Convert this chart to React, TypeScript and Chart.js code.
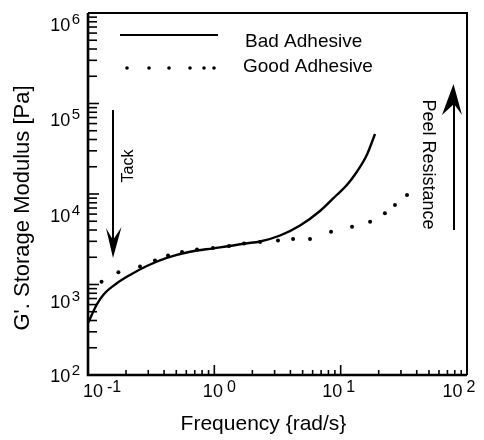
import React, { useEffect, useRef } from "react";
import { Chart, registerables } from "chart.js";

Chart.register(...registerables);

// ---- data (frequency in rad/s, G' in Pa) ----
const badFreq = [0.1, 0.118, 0.134, 0.166, 0.215, 0.292, 0.42, 0.642, 0.981, 1.33, 1.75, 2.3, 3.31, 4.77, 6.86, 9.3, 11.2, 13.4, 16.1, 18.7];
const badG = [376, 609, 785, 1013, 1274, 1600, 1970, 2300, 2510, 2664, 2838, 2987, 3478, 4486, 6490, 9750, 12570, 17500, 26970, 46000];

const goodFreq = [0.128, 0.174, 0.258, 0.339, 0.43, 0.555, 0.729, 0.976, 1.306, 1.718, 2.3, 3.19, 4.2, 5.72, 8.39, 12.3, 17.1, 22.4, 26.9, 33.5];
const goodG = [1074, 1364, 1581, 1842, 2092, 2286, 2436, 2532, 2664, 2838, 2948, 3064, 3183, 3183, 3832, 4352, 4941, 6117, 7557, 9750];

const xTickExps = [-1, 0, 1, 2];
const yTickExps = [2, 3, 4, 5, 6];

const seriesLabels = ["Bad Adhesive", "Good Adhesive"];
const xTitle = "Frequency {rad/s}";
const yTitle = "G'. Storage Modulus [Pa]";
const tackLabel = "Tack";
const peelLabel = "Peel Resistance";

const FONT = '"Liberation Sans", Arial, Helvetica, sans-serif';

function drawPower(ctx: CanvasRenderingContext2D, exp: string, x: number, baseline: number, align: "right" | "center", gap: number, expSize: number, raise: number) {
  ctx.font = `18px ${FONT}`;
  const wb = ctx.measureText("10").width;
  ctx.font = `${expSize}px ${FONT}`;
  const we = ctx.measureText(exp).width;
  const total = wb + gap + we;
  const left = align === "right" ? x - total : x - total / 2;
  ctx.textAlign = "left";
  ctx.textBaseline = "alphabetic";
  ctx.font = `18px ${FONT}`;
  ctx.fillText("10", left, baseline);
  ctx.font = `${expSize}px ${FONT}`;
  ctx.fillText(exp, left + wb + gap, baseline - raise);
}

const decorPlugin = {
  id: "decor",
  afterDatasetsDraw(chart: any) {
    const ctx: CanvasRenderingContext2D = chart.ctx;
    const { left, right, top, bottom } = chart.chartArea;
    const xs = chart.scales.x;
    const ys = chart.scales.y;
    ctx.save();
    ctx.fillStyle = "#000";
    ctx.strokeStyle = "#000";
    ctx.lineCap = "butt";

    // frame
    ctx.lineWidth = 2.6;
    ctx.beginPath();
    ctx.moveTo(left, top);
    ctx.lineTo(left, bottom);
    ctx.lineTo(right, bottom);
    ctx.stroke();
    ctx.lineWidth = 2;
    ctx.beginPath();
    ctx.moveTo(left, top);
    ctx.lineTo(right, top);
    ctx.lineTo(right, bottom);
    ctx.stroke();

    // inward ticks, y axis
    ctx.lineWidth = 1.6;
    for (let n = yTickExps[0]; n < yTickExps[yTickExps.length - 1]; n++) {
      for (let k = 1; k <= 9; k++) {
        const py = ys.getPixelForValue(k * Math.pow(10, n));
        const len = k === 1 ? 11 : 9;
        ctx.beginPath();
        ctx.moveTo(left, py);
        ctx.lineTo(left + len, py);
        ctx.stroke();
      }
    }
    // inward ticks, x axis
    for (let n = xTickExps[0]; n < xTickExps[xTickExps.length - 1]; n++) {
      for (let k = 1; k <= 9; k++) {
        const px = xs.getPixelForValue(k * Math.pow(10, n));
        const len = k === 1 ? 10 : 5;
        ctx.beginPath();
        ctx.moveTo(px, bottom);
        ctx.lineTo(px, bottom - len);
        ctx.stroke();
      }
    }

    // tick labels
    const yShift: Record<number, number> = { 2: 0, 3: 17, 4: 21, 5: 16, 6: 11 };
    yTickExps.forEach((e) => {
      const py = ys.getPixelForValue(Math.pow(10, e));
      drawPower(ctx, String(e), left - 8, py + yShift[e] + 6.5, "right", 1.5, 15, 7);
    });
    const xShift: Record<number, number> = { [-1]: 14, 0: 5, 1: -2, 2: -8 };
    xTickExps.forEach((e) => {
      const px = xs.getPixelForValue(Math.pow(10, e));
      drawPower(ctx, String(e), px + xShift[e], bottom + 22, "center", 4, 16, 5);
    });

    // axis titles
    ctx.font = `21px ${FONT}`;
    ctx.textAlign = "center";
    ctx.textBaseline = "alphabetic";
    ctx.fillText(xTitle, (left + right) / 2 - 14, bottom + 55);
    ctx.save();
    ctx.translate(29, 208);
    ctx.rotate(-Math.PI / 2);
    ctx.font = `22px ${FONT}`;
    ctx.fillText(yTitle, 0, 0);
    ctx.restore();

    // legend
    ctx.lineWidth = 2.2;
    ctx.beginPath();
    ctx.moveTo(left + 32, top + 22);
    ctx.lineTo(left + 130, top + 22);
    ctx.stroke();
    [127, 149, 169, 190, 204, 214].forEach((dx) => {
      ctx.beginPath();
      ctx.arc(dx, top + 55, 1.8, 0, Math.PI * 2);
      ctx.fill();
    });
    ctx.font = `19px ${FONT}`;
    ctx.textAlign = "left";
    ctx.fillText(seriesLabels[0], 245, top + 34);
    ctx.fillText(seriesLabels[1], 243, top + 59);

    // Tack arrow
    ctx.lineWidth = 2;
    ctx.beginPath();
    ctx.moveTo(113, 110);
    ctx.lineTo(113, 245);
    ctx.stroke();
    ctx.beginPath();
    ctx.moveTo(113, 258);
    ctx.lineTo(106, 228);
    ctx.lineTo(113, 240);
    ctx.lineTo(121.5, 227);
    ctx.closePath();
    ctx.fill();
    ctx.save();
    ctx.translate(133, 166);
    ctx.rotate(-Math.PI / 2);
    ctx.font = `16px ${FONT}`;
    ctx.textAlign = "center";
    ctx.fillText(tackLabel, 0, 0);
    ctx.restore();

    // Peel Resistance arrow
    ctx.beginPath();
    ctx.moveTo(454, 230);
    ctx.lineTo(454, 98);
    ctx.stroke();
    ctx.beginPath();
    ctx.moveTo(453.5, 84);
    ctx.lineTo(462, 115);
    ctx.lineTo(454, 104);
    ctx.lineTo(442, 115);
    ctx.closePath();
    ctx.fill();
    ctx.save();
    ctx.translate(423, 164.5);
    ctx.rotate(Math.PI / 2);
    ctx.font = `18px ${FONT}`;
    ctx.textAlign = "center";
    ctx.fillText(peelLabel, 0, 0);
    ctx.restore();

    ctx.restore();
  },
};

export default function App() {
  const ref = useRef<HTMLCanvasElement | null>(null);
  useEffect(() => {
    if (!ref.current) return;
    const chart = new Chart(ref.current, {
      type: "scatter",
      data: {
        datasets: [
          {
            label: seriesLabels[0],
            data: badFreq.map((x, i) => ({ x, y: badG[i] })),
            showLine: true,
            borderColor: "#000",
            borderWidth: 2.4,
            pointRadius: 0,
            cubicInterpolationMode: "monotone",
            fill: false,
          },
          {
            label: seriesLabels[1],
            data: goodFreq.map((x, i) => ({ x, y: goodG[i] })),
            showLine: false,
            pointRadius: 2,
            pointBackgroundColor: "#000",
            pointBorderWidth: 0,
            borderColor: "#000",
          },
        ],
      },
      options: {
        responsive: false,
        animation: false,
        devicePixelRatio: 1,
        layout: { padding: { left: 88, right: 17, top: 13, bottom: 65 } },
        plugins: { legend: { display: false }, tooltip: { enabled: false } },
        scales: {
          x: { type: "logarithmic", min: 0.1, max: 100, display: false },
          y: { type: "logarithmic", min: 100, max: 1e6, display: false },
        },
      },
      plugins: [decorPlugin],
    } as any);
    return () => chart.destroy();
  }, []);
  return (
    <div style={{ position: "absolute", left: 0, top: 0, width: 484, height: 440, background: "#fff" }}>
      <canvas ref={ref} width={484} height={440} style={{ display: "block" }} />
    </div>
  );
}
